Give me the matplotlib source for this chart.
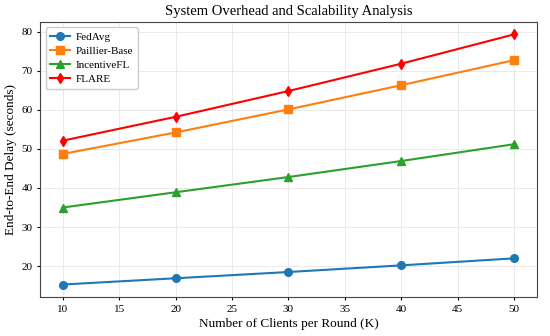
import matplotlib.pyplot as plt

plt.rcParams["font.family"] = ["Liberation Serif", "DejaVu Serif"]
plt.rcParams["font.size"] = 8

clients = [10, 20, 30, 40, 50]
fedavg = [15.3, 16.9, 18.5, 20.2, 22.0]
paillier = [48.7, 54.2, 60.1, 66.3, 72.7]
incentive = [35.0, 38.9, 42.8, 46.9, 51.2]
flare = [52.1, 58.2, 64.8, 71.8, 79.3]

fig, ax = plt.subplots(figsize=(5.5, 3.36), dpi=100)
ax.plot(clients, fedavg, "o-", color="#1f77b4", label="FedAvg", lw=1.5, ms=5.5)
ax.plot(clients, paillier, "s-", color="#ff7f0e", label="Paillier-Base", lw=1.5, ms=5.5)
ax.plot(clients, incentive, "^-", color="#2ca02c", label="IncentiveFL", lw=1.5, ms=5.5)
ax.plot(clients, flare, "d-", color="red", label="FLARE", lw=1.5, ms=5.5)

ax.set_xlabel("Number of Clients per Round (K)", fontsize=9.5, labelpad=3)
ax.set_ylabel("End-to-End Delay (seconds)", fontsize=9.5, labelpad=3)
ax.set_title("System Overhead and Scalability Analysis", fontsize=10.5, pad=5)
ax.grid(True, color="#e6e6e6", lw=0.6)
ax.set_axisbelow(True)
for s in ax.spines.values():
    s.set_color("#444444")
ax.tick_params(labelsize=8, length=2.5, pad=3)
ax.legend(loc="upper left", fontsize=8, framealpha=1, edgecolor="#cccccc",
          handlelength=1.8, handletextpad=0.5, labelspacing=0.4)

plt.subplots_adjust(left=0.073, right=0.976, top=0.935, bottom=0.116)
plt.savefig("out.png")
